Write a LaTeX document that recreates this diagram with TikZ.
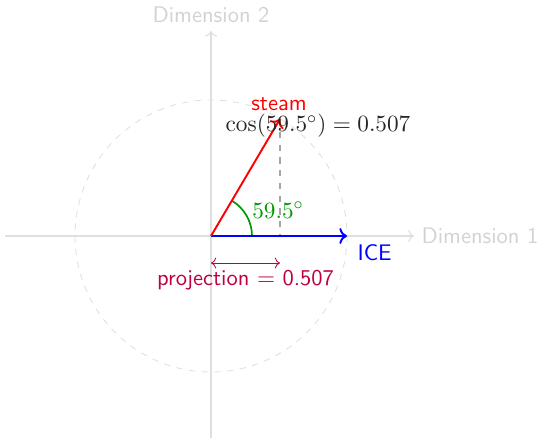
\documentclass[tikz,border=0pt]{standalone}
\usetikzlibrary{arrows.meta}
\begin{document}
\begin{tikzpicture}[x=0.016544cm,y=-0.016544cm,
  every node/.style={font=\fontsize{10.95pt}{13pt}\selectfont},
  sf/.style={font=\fontsize{10.6pt}{13pt}\selectfont\sffamily},
  axis/.style={draw=gray!25,line width=0.5pt,->},
  axlabel/.style={sf,text=gray!35},
  vec/.style={line width=0.9pt,->},
]
\useasboundingbox (0,0) rectangle (541,438);
\coordinate (O) at (211,236);
\coordinate (xe) at (414,236);
\coordinate (xs) at (5,236);
\coordinate (ys) at (211,438);
\coordinate (ye) at (211,31);
\coordinate (S) at (280,119);
\coordinate (I) at (347,236);
\coordinate (F) at (280,236);
\coordinate (pa) at (211,263);
\coordinate (pb) at (280,263);
% axes
\draw[axis] (xs) -- (xe);
\draw[axis] (ys) -- (ye);
\node[axlabel,anchor=west] (d1) at (xe) {Dimension 1};
\node[axlabel,anchor=south,inner sep=2pt] (d2) at (211,27) {Dimension 2};
% circle
\draw[gray!25,dashed] (O) circle (136);
% projection foot
\draw[gray!70,dashed,line width=0.6pt] (S) -- (F);
% angle arc
\draw[green!60!black,line width=0.8pt] (252,236) arc[start angle=0,end angle=-59.5,radius=41];
\node[text=green!60!black] (ang) at (278,210) {$59.5^\circ$};
% vectors
\draw[vec,blue] (O) -- (I);
\draw[vec,red] (O) -- (S);
\node[sf,text=blue,anchor=north west,inner sep=1pt] (ice) at (355,242) {ICE};
\node[sf,text=red] (steam) at (279,104) {steam};
\node[text=black!85] (cos) at (318,126) {$\cos(59.5^\circ) = 0.507$};
% projection
\draw[purple,<->,line width=0.4pt] (pa) -- (pb);
\node[sf,text=purple] (pl) at (245.5,280) {projection $=$ 0.507};
\end{tikzpicture}
\end{document}
